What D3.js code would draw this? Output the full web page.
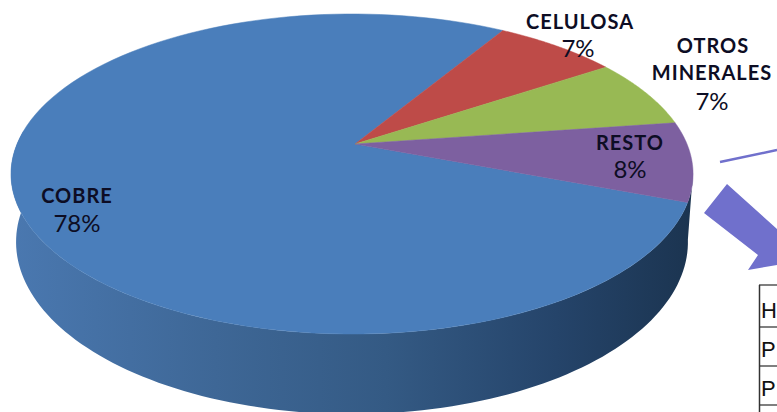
<!DOCTYPE html>
<html>
<head>
<meta charset="utf-8">
<script src="https://cdn.jsdelivr.net/npm/d3@7"></script>
<style>
  html, body { margin: 0; padding: 0; background: #fff; overflow: hidden; }
  text { font-family: Lato, sans-serif; fill: #0d0d24; text-anchor: middle; }
  .name { font-weight: 700; font-size: 20px; letter-spacing: 1px; }
  .pct { font-weight: 400; font-size: 24px; }
  .cell { font-family: "Liberation Sans", sans-serif; font-size: 22px; fill: #111; text-anchor: start; }
</style>
</head>
<body>
<div id="graph"></div>
<script>
// datos del grafico
const categories = ['COBRE', 'CELULOSA', 'OTROS MINERALES', 'RESTO']
const shares = [78, 7, 7, 8]
const sliceColors = ['#4a7ebb', '#be4b48', '#98b954', '#7d60a0']
const tableRows = ['H', 'P', 'P']

const W = 777, H = 412
const svg = d3.select('#graph').append('svg').attr('width', W).attr('height', H)

// pie in perspective: apex sits above the middle of the ellipse
const apex = { x: 355, y: 144 }
const persp = { a: 335, b: 154.4, k: 0.1875 }
const depth = 68
const rad = d => d * Math.PI / 180
const firstCut = 31.5 // grados, donde termina COBRE

//unit disc -> screen. t measured clockwise from 12 o'clock
const project = (t, r = 1) => {
  const u = r * Math.sin(t), v = -r * Math.cos(t)
  const w = 1 - persp.k * v
  return [apex.x + persp.a * u / w - 3 * r, apex.y + persp.b * v / w]
}

const pie = d3.pie().sort(null).startAngle(rad(firstCut - 280.8)).endAngle(rad(firstCut - 280.8 + 360))
const arcs = pie(shares)
const line = d3.line()

const rimPoints = (a0, a1) => d3.range(0, 121).map(i => project(a0 + (a1 - a0) * i / 120))

/* side wall: front half of the rim, pushed down */
const defs = svg.append('defs')
const grad = defs.append('linearGradient').attr('id', 'wall')
  .attr('gradientUnits', 'userSpaceOnUse')
  .attr('x1', 11).attr('x2', 693).attr('y1', 0).attr('y2', 0)
const wallStops = [[0, '#4a78b0'], [0.3, '#3e6796'], [0.55, '#345a84'], [0.8, '#25446a'], [1, '#1b3450']]
grad.selectAll('stop').data(wallStops).enter().append('stop')
  .attr('offset', d => d[0]).attr('stop-color', d => d[1])

const front = rimPoints(rad(100), rad(275))
const lowRx = 0.985
const lower = front.map(p => {
  const cx = 352
  const cy = 174
  return [cx + (p[0] - cx) * lowRx, cy + (p[1] - cy) * 1.075 + depth]
})
svg.append('path')
  .attr('d', line(front.concat(lower.slice().reverse())) + 'Z')
  .attr('fill', 'url(#wall)')

// top face
svg.selectAll('path.slice').data(arcs).enter().append('path')
  .attr('class', 'slice')
  .attr('fill', (d, i) => sliceColors[i])
  .attr('stroke', (d, i) => sliceColors[i])
  .attr('stroke-width', 0.5)
  .attr('d', d => line([project(0, 0)].concat(rimPoints(d.startAngle, d.endAngle))) + 'Z')

// etiquetas
const labelLines = [
  [['COBRE', 203, 'name', 77], ['78%', 232, 'pct', 77]],
  [['CELULOSA', 29, 'name', 580], ['7%', 57, 'pct', 578]],
  [['OTROS', 53, 'name', 713], ['MINERALES', 80, 'name', 712], ['7%', 110, 'pct', 712]],
  [['RESTO', 150, 'name', 630], ['8%', 178, 'pct', 630]],
]
labelLines.forEach(group => {
  group.forEach(l => {
    svg.append('text').attr('class', l[2]).attr('x', l[3]).attr('y', l[1]).text(l[0])
  })
})

// thin line + big arrow pointing at the table
svg.append('line').attr('x1', 720).attr('y1', 162).attr('x2', 777).attr('y2', 150)
  .attr('stroke', '#7070cc').attr('stroke-width', 2.5)
svg.append('polygon')
  .attr('points', '727,184 704,213 758,255 748,270 777,265 777,229')
  .attr('fill', '#7070cc')

// tabla cortada por el borde
const rowLines = [285, 327, 366, 405]
svg.selectAll('line.row').data(rowLines).enter().append('line')
  .attr('class', 'row')
  .attr('x1', 759).attr('x2', 777).attr('y1', d => d).attr('y2', d => d)
  .attr('stroke', '#555').attr('stroke-width', 1.5)
svg.append('line').attr('x1', 759.5).attr('x2', 759.5).attr('y1', 285).attr('y2', 412)
  .attr('stroke', '#333').attr('stroke-width', 1.5)
svg.selectAll('text.cell').data(tableRows).enter().append('text')
  .attr('class', 'cell').attr('x', 761)
  .attr('y', (d, i) => rowLines[i + 1] - 9)
  .text(d => d)
</script>
</body>
</html>
